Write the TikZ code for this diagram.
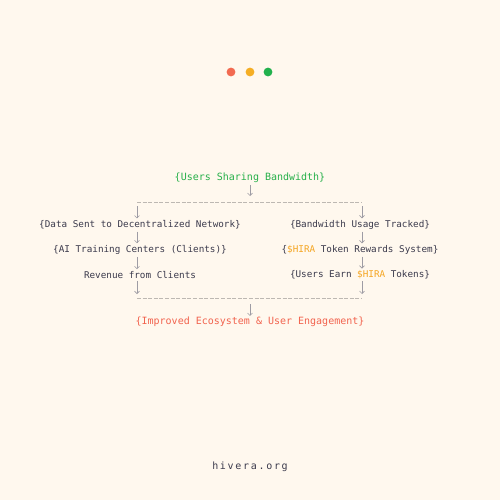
\documentclass[tikz,border=0pt]{standalone}
\usepackage{fontspec}
\setmonofont{DejaVu Sans Mono}
\newfontfamily\sitefont[LetterSpace=17]{DejaVu Sans Mono}
\usetikzlibrary{positioning, arrows.meta}

\definecolor{paper}{HTML}{FFF8EE}
\definecolor{ink}{HTML}{3B3A4C}
\definecolor{arrowgray}{HTML}{9E9CA4}
\definecolor{dashgray}{HTML}{BDB8B2}
\definecolor{hiragreen}{HTML}{27B04A}
\definecolor{hirared}{HTML}{F2634E}
\definecolor{hiraorange}{HTML}{F5A623}
\definecolor{dotred}{HTML}{F26A50}
\definecolor{dotorange}{HTML}{F5AE24}
\definecolor{dotgreen}{HTML}{22B14C}

\begin{document}
\begin{tikzpicture}[x = 1pt, y = -1pt,
                > = {Straight Barb[length = 2.5pt, width = 5pt]}, % arrow head style
                node distance = 25pt, % distance between rows
                flow/.style = {->, draw = arrowgray, line width = 0.6pt,
                shorten < = 2pt, shorten > = 2pt},
                split/.style = {draw = dashgray, line width = 0.9pt,
                dash pattern = on 4pt off 1.6pt},
                head/.style = {font = \ttfamily\fontsize{10}{12}\selectfont}
            ]

            \tikzstyle{every node}=[font = \ttfamily\fontsize{9.3}{11}\selectfont,
            text = ink, inner sep = 0pt]

            % background and window dots
            \fill[paper] (0,0) rectangle (500,500);
            \fill[dotred] (231,72) circle (4.4); \fill[dotorange] (250,72)
            circle (4.4); \fill[dotgreen] (268,72) circle (4.4);

            \node[head, text = hiragreen] (users) at (250,178) {\{Users Sharing
                Bandwidth\}};

            \coordinate (topL) at (137,202); \coordinate (topR) at (362,202);
            \coordinate (botL) at (137,298); \coordinate (botR) at (362,298);
            \coordinate (botC) at (250,298);

            % left column
            \node (data) at (140,225) {\{Data Sent to Decentralized Network\}};
            \node (ai) [below of=data] {\{AI Training Centers (Clients)\}};
            \node (revenue) [below of=ai] {Revenue from Clients};

            % right column
            \node (tracked) at (360,225) {\{Bandwidth Usage Tracked\}};
            \node (rewards) [below of=tracked] {\{\textcolor{hiraorange}{\$HIRA}
                Token Rewards System\}};
            \node (earn) [below of=rewards] {\{Users Earn
                \textcolor{hiraorange}{\$HIRA} Tokens\}};

            \node[head, text = hirared] (eco) at (250,322) {\{Improved Ecosystem
                \& User Engagement\}};

            \node[font = \sitefont\fontsize{10}{12}\selectfont] (site) at
            (250,467) {hivera.org};

            \draw[split] (topL) -- (topR); \draw[split] (botL) -- (botR);

            \draw[flow, shorten > = 6pt] (users) -- (users |- topL);
            \draw[flow, shorten < = 4pt] (topL) -- (data.north -| topL);
            \draw[flow, shorten < = 4pt] (topR) -- (tracked.north -| topR);
            \draw[flow] (data.south -| topL) -- (ai.north -| topL);
            \draw[flow] (ai.south -| topL) -- (revenue.north -| topL);
            \draw[flow, shorten > = 4pt] (revenue.south -| botL) -- (botL);
            \draw[flow] (tracked.south -| topR) -- (rewards.north -| topR);
            \draw[flow] (rewards.south -| topR) -- (earn.north -| topR);
            \draw[flow, shorten > = 4pt] (earn.south -| botR) -- (botR);
            \draw[flow, shorten < = 6pt, shorten > = 1pt] (botC) -- (eco);
        \end{tikzpicture}
\end{document}
